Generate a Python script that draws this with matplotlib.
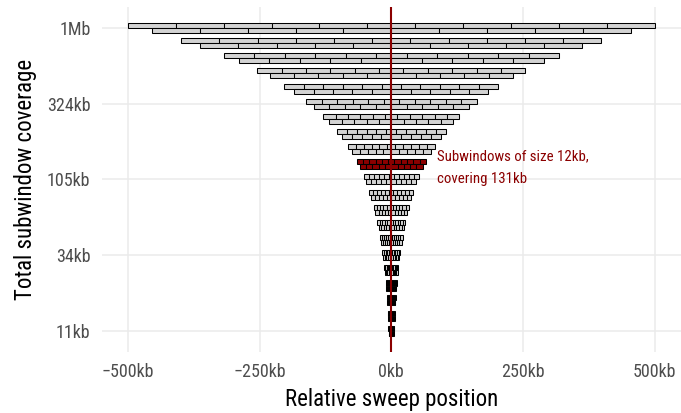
"""Nested subwindow layout around a sweep"""

# Matplotlib
from matplotlib import pyplot as plt

# Numpy
import numpy as np


# total coverage of each subwindow level (kb), top to bottom
coverage_kb = [1000, 798.1, 637.0, 508.4, 405.8, 323.9, 258.5, 206.3,
               164.7, 131.4, 104.9, 83.7, 66.8, 53.3, 42.6, 34.0, 27.1,
               21.6, 17.3, 13.8, 11.0]
n_windows = 11
highlight_level = 9

y_ticks = [1000, 323.9, 104.9, 34.0, 11.0]
y_labels = ['1Mb', '324kb', '105kb', '34kb', '11kb']
x_ticks = [-500, -250, 0, 250, 500]
x_labels = ['\u2212500kb', '\u2212250kb', '0kb', '250kb', '500kb']

DARKRED = '#8B0000'
FONT = ['Roboto Condensed', 'Liberation Sans Narrow', 'DejaVu Sans']


def make_plot():
    """Draw the staggered subwindow rows"""
    plt.rcParams['font.family'] = FONT
    fig = plt.figure(figsize=(6.81, 4.13), dpi=100)
    ax = fig.add_axes([0.1492, 0.1489, 0.8508, 0.8334])

    k = 1.078  # half-level height factor of one row on the log axis
    for level, cov in enumerate(coverage_kb):
        size = cov / n_windows
        fill = DARKRED if level == highlight_level else '#D3D3D3'
        upper = -cov / 2 + size * np.arange(n_windows)
        lower = -cov / 2 + size / 2 + size * np.arange(n_windows - 1)
        ax.bar(upper, cov * k - cov, width=size, bottom=cov, align='edge',
               color=fill, edgecolor='black', linewidth=0.75, zorder=2)
        ax.bar(lower, cov - cov / k, width=size, bottom=cov / k,
               align='edge', color=fill, edgecolor='black', linewidth=0.75,
               zorder=2)

    ax.axvline(0, color=DARKRED, linewidth=1.5, zorder=3)

    cov_h = coverage_kb[highlight_level]
    ax.text(86, cov_h * 0.955, f'Subwindows of size '
            f'{cov_h / n_windows:.0f}kb,\ncovering {cov_h:.0f}kb',
            color=DARKRED, fontsize=10.7, ha='left', va='center',
            linespacing=1.8)

    ax.set_yscale('log')
    lo, hi = coverage_kb[-1] / k, coverage_kb[0] * k
    pad = (hi / lo) ** 0.05
    ax.set_ylim(lo / pad, hi * pad)
    ax.set_xlim(-550, 550)
    ax.set_yticks(y_ticks, y_labels)
    ax.set_xticks(x_ticks, x_labels)
    ax.minorticks_off()
    ax.tick_params(length=0, labelsize=13, labelcolor='#4D4D4D', pad=8)
    ax.grid(color='#EBEBEB', linewidth=1.1, zorder=0)
    ax.set_axisbelow(True)
    for spine in ax.spines.values():
        spine.set_visible(False)
    ax.set_xlabel('Relative sweep position', fontsize=16.5, labelpad=5)
    ax.set_ylabel('Total subwindow coverage', fontsize=16.5, labelpad=7)

    fig.savefig('out.png', dpi=100)


if __name__ == '__main__':
    make_plot()
